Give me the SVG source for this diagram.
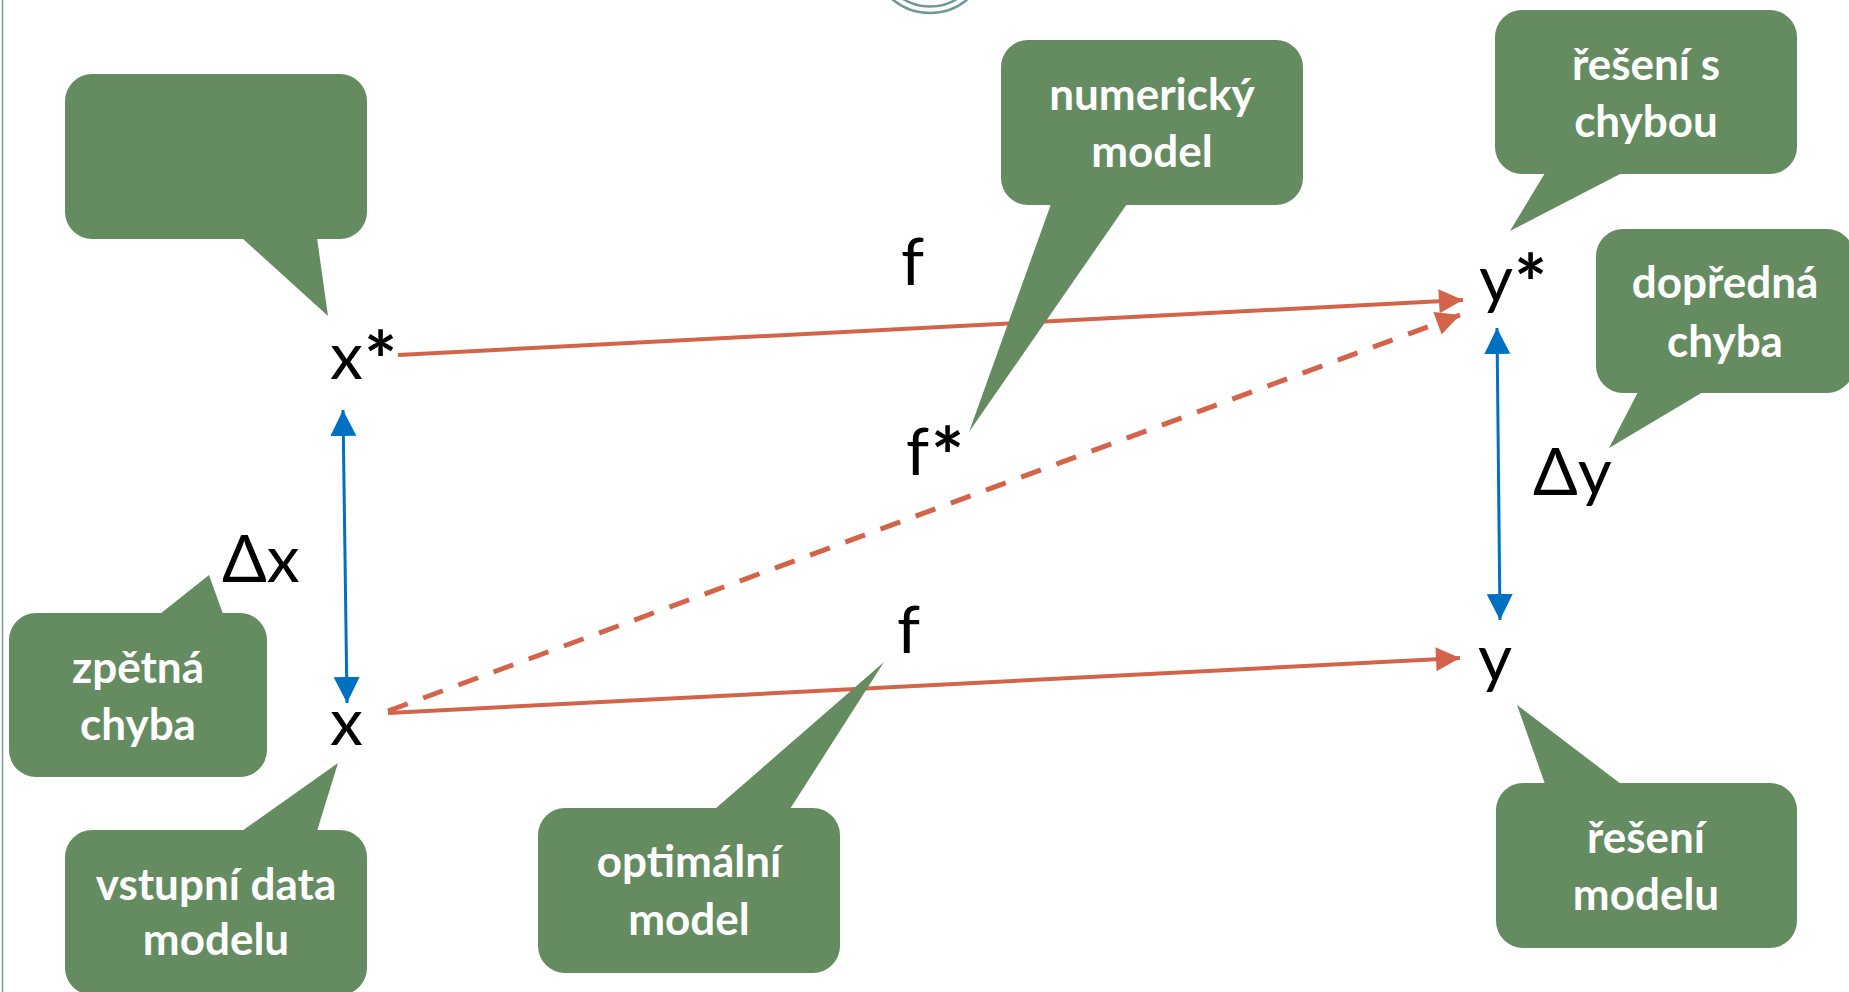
<svg xmlns="http://www.w3.org/2000/svg" width="1849" height="992" viewBox="0 0 1849 992">
  <style>
    .bubble { fill: #648C60; }
    .btxt { font-family: Lato, "Open Sans", sans-serif; font-weight: bold; font-size: 44px; fill: #ffffff; text-anchor: middle; }
    .math { font-family: Lato, "Open Sans", sans-serif; font-size: 66px; fill: #000000; }
    .ast { font-size: 78px; font-weight: bold; }
    .red { stroke: #D3644A; stroke-width: 4; fill: none; }
    .dash { stroke-width: 5; stroke-dasharray: 21 16.5; }
    .blue { stroke: #0070C0; stroke-width: 3; fill: none; }
  </style>
  <defs>
    <marker id="ah-red" viewBox="0 0 10 10" refX="10" refY="5" markerUnits="userSpaceOnUse" markerWidth="25" markerHeight="24" orient="auto">
      <path d="M0,0 L10,5 L0,10 z" fill="#D3644A"/>
    </marker>
    <marker id="ah-blue" viewBox="0 0 10 10" refX="10" refY="5" markerUnits="userSpaceOnUse" markerWidth="26" markerHeight="27" orient="auto-start-reverse">
      <path d="M0,0 L10,5 L0,10 z" fill="#0070C0"/>
    </marker>
  </defs>
  <rect x="0" y="0" width="1849" height="992" fill="#ffffff"/>
  <line x1="2.5" y1="0" x2="2.5" y2="992" stroke="#7A9A99" stroke-width="1.5"/>
  <g id="logo" fill="none" stroke="#6F9894" stroke-width="2.5">
    <circle cx="930" cy="-45" r="58"/>
    <circle cx="930" cy="-45" r="51.5"/>
  </g>

  <g id="connectors">
    <line class="red" x1="398" y1="355" x2="1463" y2="300" marker-end="url(#ah-red)"/>
    <line class="red" x1="388" y1="713" x2="1460" y2="658" marker-end="url(#ah-red)"/>
    <line class="red dash" x1="388" y1="711" x2="1460" y2="315" marker-end="url(#ah-red)"/>
    <line class="blue" x1="343" y1="410" x2="347" y2="703" marker-start="url(#ah-blue)" marker-end="url(#ah-blue)"/>
    <line class="blue" x1="1497" y1="328" x2="1500" y2="620" marker-start="url(#ah-blue)" marker-end="url(#ah-blue)"/>
  </g>

  <g id="labels">
    <text class="math" x="330" y="379">x<tspan class="ast" x="364" y="389">*</tspan></text>
    <text class="math" x="330" y="745">x</text>
    <text class="math" x="1479" y="302">y<tspan class="ast" x="1514" y="312">*</tspan></text>
    <text class="math" x="1478" y="681">y</text>
    <text class="math" x="901" y="285">f</text>
    <text class="math" x="897" y="653">f</text>
    <text class="math" x="906" y="475">f<tspan class="ast" x="931" y="485">*</tspan></text>
    <text class="math" x="222" y="582">Δx</text>
    <text class="math" x="1533" y="495">Δy</text>
  </g>

  <g id="callout-empty">
    <rect class="bubble" x="65" y="74" width="302" height="165" rx="27"/>
    <polygon class="bubble" points="242,238 328,316 317,238"/>
  </g>

  <g id="callout-numericky">
    <rect class="bubble" x="1001" y="40" width="302" height="165" rx="27"/>
    <polygon class="bubble" points="1051,204 969,432 1127,204"/>
    <text class="btxt" x="1152" y="110">numerický</text>
    <text class="btxt" x="1152" y="167">model</text>
  </g>

  <g id="callout-reseni-s-chybou">
    <rect class="bubble" x="1495" y="10" width="302" height="164" rx="27"/>
    <polygon class="bubble" points="1545,173 1510,231 1622,173"/>
    <text class="btxt" x="1646" y="80">řešení s</text>
    <text class="btxt" x="1646" y="137">chybou</text>
  </g>

  <g id="callout-dopredna">
    <rect class="bubble" x="1596" y="229" width="258" height="164" rx="27"/>
    <polygon class="bubble" points="1638,392 1609,448 1703,392"/>
    <text class="btxt" x="1725" y="298">dopředná</text>
    <text class="btxt" x="1725" y="357">chyba</text>
  </g>

  <g id="callout-zpetna">
    <rect class="bubble" x="9" y="613" width="258" height="164" rx="27"/>
    <polygon class="bubble" points="160,614 209,575 223,614"/>
    <text class="btxt" x="138" y="683">zpětná</text>
    <text class="btxt" x="138" y="740">chyba</text>
  </g>

  <g id="callout-vstupni">
    <rect class="bubble" x="65" y="830" width="302" height="165" rx="27"/>
    <polygon class="bubble" points="242,831 338,763 317,831"/>
    <text class="btxt" x="216" y="900">vstupní data</text>
    <text class="btxt" x="216" y="955">modelu</text>
  </g>

  <g id="callout-optimalni">
    <rect class="bubble" x="538" y="808" width="302" height="165" rx="27"/>
    <polygon class="bubble" points="715,809 884,662 790,809"/>
    <text class="btxt" x="689" y="877">optimální</text>
    <text class="btxt" x="689" y="935">model</text>
  </g>

  <g id="callout-reseni-modelu">
    <rect class="bubble" x="1496" y="783" width="301" height="165" rx="27"/>
    <polygon class="bubble" points="1545,784 1517,705 1621,784"/>
    <text class="btxt" x="1646" y="853">řešení</text>
    <text class="btxt" x="1646" y="910">modelu</text>
  </g>
</svg>
